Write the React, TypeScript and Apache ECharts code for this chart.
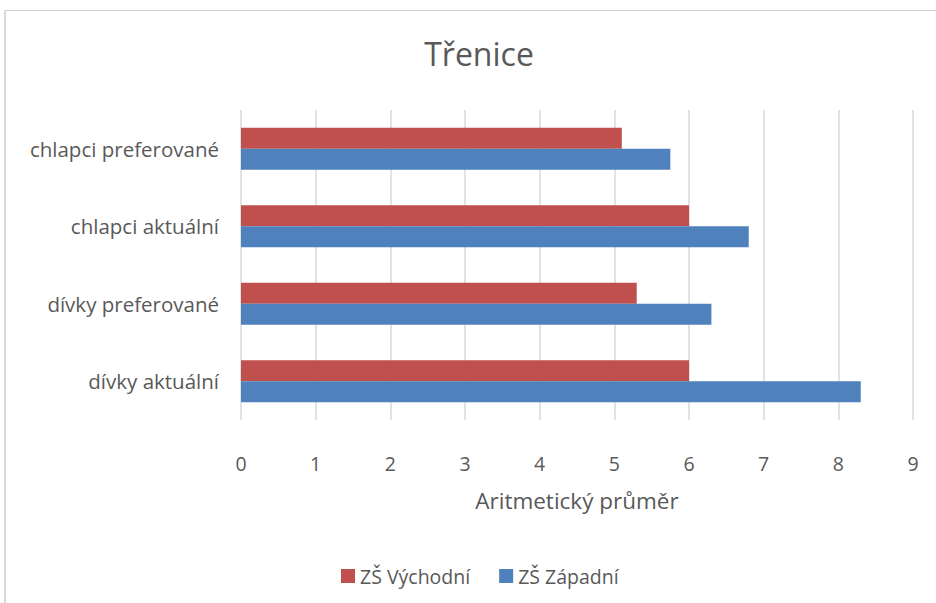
import React, { useEffect, useRef } from "react";
import * as echarts from "echarts";

const categories = ["dívky aktuální", "dívky preferované", "chlapci aktuální", "chlapci preferované"];
const zsVychodni = [6.0, 5.3, 6.0, 5.1];
const zsZapadni = [8.3, 6.3, 6.8, 5.75];
const xTicks = { min: 0, max: 9, interval: 1 };
const FONT = "'Open Sans', 'Noto Sans', sans-serif";

export default function App() {
  const ref = useRef<HTMLDivElement>(null);
  useEffect(() => {
    const chart = echarts.init(ref.current!, null, { renderer: "svg" });
    chart.setOption({
      animation: false,
      backgroundColor: "#ffffff",
      title: {
        text: "Třenice",
        left: 474,
        textAlign: "center",
        top: 32,
        textStyle: { fontFamily: FONT, fontSize: 32, fontWeight: "normal", color: "#595959" },
      },
      graphic: [
        {
          type: "line",
          shape: { x1: 5, y1: 10.5, x2: 936, y2: 10.5 },
          style: { stroke: "#d0d0d0", lineWidth: 1 },
          silent: true,
          z: 100,
        },
        {
          type: "line",
          shape: { x1: 5, y1: 10.5, x2: 5, y2: 603 },
          style: { stroke: "#cccccc", lineWidth: 1.5 },
          silent: true,
          z: 100,
        },
      ],
      legend: {
        data: ["ZŠ Východní", "ZŠ Západní"],
        top: 561,
        left: 336,
        itemWidth: 14,
        itemHeight: 14,
        itemGap: 29,
        icon: "rect",
        textStyle: { fontFamily: FONT, fontSize: 19.5, color: "#595959" },
      },
      grid: { left: 241, right: 23, top: 110, bottom: 183, containLabel: false },
      xAxis: {
        type: "value",
        min: xTicks.min,
        max: xTicks.max,
        interval: xTicks.interval,
        name: "Aritmetický průměr",
        nameLocation: "middle",
        nameGap: 69,
        nameTextStyle: { fontFamily: FONT, fontSize: 22.5, color: "#595959" },
        axisLine: { show: false },
        axisTick: { show: false },
        axisLabel: { fontFamily: FONT, fontSize: 19.5, color: "#595959", margin: 33 },
        splitLine: { show: true, lineStyle: { color: "#d9d9d9", width: 1.5 } },
      },
      yAxis: {
        type: "category",
        data: categories,
        axisLine: { show: false },
        axisTick: { show: false },
        axisLabel: { fontFamily: FONT, fontSize: 20.5, color: "#595959", margin: 22 },
        splitLine: { show: false },
      },
      series: [
        {
          name: "ZŠ Východní",
          type: "bar",
          data: zsVychodni,
          barWidth: 21,
          barGap: "0%",
          itemStyle: { color: "#c0504d" },
        },
        {
          name: "ZŠ Západní",
          type: "bar",
          data: zsZapadni,
          barWidth: 21,
          barGap: "0%",
          itemStyle: { color: "#4f81bd" },
        },
      ],
    });
    return () => chart.dispose();
  }, []);
  return <div ref={ref} style={{ position: "fixed", left: 0, top: 0, width: 936, height: 603 }} />;
}
